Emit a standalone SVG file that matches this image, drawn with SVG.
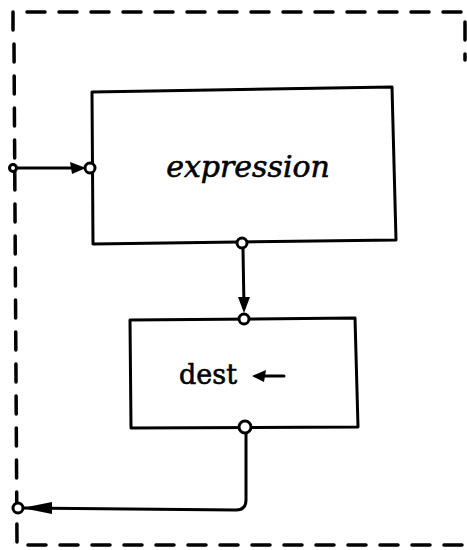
<svg xmlns="http://www.w3.org/2000/svg" width="467" height="550" viewBox="0 0 467 550">
<style>
.frame{fill:none;stroke:#000;stroke-width:3.5;stroke-dasharray:18 14;stroke-linecap:round}
.box{fill:none;stroke:#000;stroke-width:3;stroke-linejoin:round}
.port{fill:#fff;stroke:#000;stroke-width:3}
.wire{fill:none;stroke:#000;stroke-width:3;stroke-linecap:round}
.lbl{font-family:"DejaVu Serif","Liberation Serif",serif;font-style:italic;font-size:30px;fill:#000;stroke:#000;stroke-width:0.6}
.lbl2{font-family:"DejaVu Serif","Liberation Serif",serif;font-size:27px;fill:#000;stroke:#000;stroke-width:0.6}
</style>
<g id="frame">
<path class="frame" d="M13,30 L13,12 L465,12 L465,60"/>
<path class="frame" d="M14,44 L17,545 L467,545"/>
</g>
<g id="expression">
<path class="box" d="M92,92 L392,87 L396,240 L93,244 Z"/>
<text class="lbl" x="248" y="177" text-anchor="middle">expression</text>
</g>
<g id="dest">
<path class="box" d="M130,320 L355,318 L358,427 L131,428 Z"/>
<text class="lbl2" x="208" y="384" text-anchor="middle">dest</text>
<path class="wire" d="M284,376 L256,376"/>
<path d="M252,376 L266,370 L264,382 Z" fill="#000"/>
</g>
<g id="connectors">
<path class="wire" d="M16,168 L80,168"/>
<path d="M86,168 L70,162 L72,174 Z" fill="#000"/>
<path class="wire" d="M243,249 L244,308"/>
<path d="M244,313 L238,297 L250,297 Z" fill="#000"/>
<path class="wire" d="M246,433 L246,500 Q246,510 236,510 L22,508"/>
<path d="M22,508 L52,502 L52,514 Z" fill="#000"/>
<circle class="port" cx="13" cy="168" r="3.5"/>
<circle class="port" cx="90" cy="168" r="5"/>
<circle class="port" cx="242" cy="243" r="5"/>
<circle class="port" cx="244" cy="319" r="5"/>
<circle class="port" cx="245" cy="427" r="6"/>
<circle class="port" cx="18" cy="508" r="5"/>
</g>
</svg>
